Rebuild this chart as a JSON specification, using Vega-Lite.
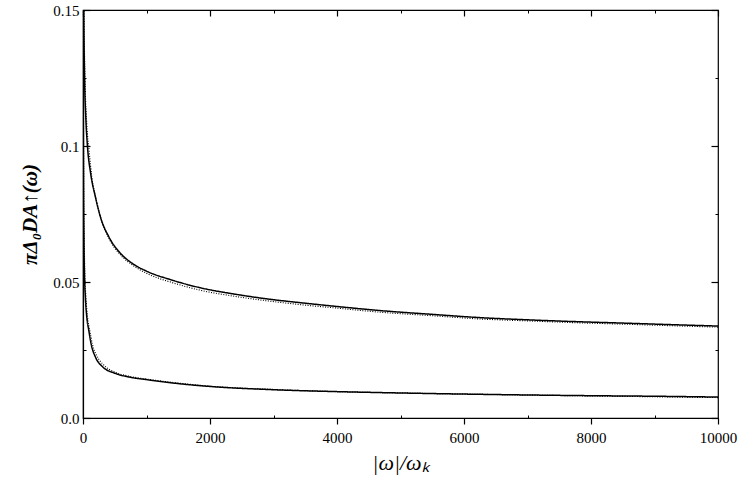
{
  "$schema": "https://vega.github.io/schema/vega-lite/v6.json",
  "width": 635,
  "height": 408,
  "autosize": {"type": "none"},
  "padding": {"left": 83, "top": 10, "right": 20, "bottom": 70},
  "background": "white",
  "config": {
    "font": "Liberation Serif",
    "view": {"stroke": "black", "strokeWidth": 1.2},
    "axis": {
      "labelFont": "Liberation Serif",
      "titleFont": "Liberation Serif",
      "labelColor": "black",
      "titleColor": "black",
      "tickColor": "black",
      "domainColor": "black",
      "grid": false,
      "labelFontSize": 15
    }
  },
  "data": {
    "values": [
      {"x": 5, "y": 0.18, "series": "upper solid", "kind": "solid"},
      {"x": 12, "y": 0.15, "series": "upper solid", "kind": "solid"},
      {"x": 25, "y": 0.125, "series": "upper solid", "kind": "solid"},
      {"x": 45, "y": 0.11, "series": "upper solid", "kind": "solid"},
      {"x": 70, "y": 0.1, "series": "upper solid", "kind": "solid"},
      {"x": 120, "y": 0.09, "series": "upper solid", "kind": "solid"},
      {"x": 194, "y": 0.0814, "series": "upper solid", "kind": "solid"},
      {"x": 280, "y": 0.0735, "series": "upper solid", "kind": "solid"},
      {"x": 405, "y": 0.0667, "series": "upper solid", "kind": "solid"},
      {"x": 580, "y": 0.0608, "series": "upper solid", "kind": "solid"},
      {"x": 772, "y": 0.0569, "series": "upper solid", "kind": "solid"},
      {"x": 1000, "y": 0.0540, "series": "upper solid", "kind": "solid"},
      {"x": 1402, "y": 0.0507, "series": "upper solid", "kind": "solid"},
      {"x": 1843, "y": 0.0479, "series": "upper solid", "kind": "solid"},
      {"x": 2400, "y": 0.0455, "series": "upper solid", "kind": "solid"},
      {"x": 2893, "y": 0.0438, "series": "upper solid", "kind": "solid"},
      {"x": 3500, "y": 0.0422, "series": "upper solid", "kind": "solid"},
      {"x": 4000, "y": 0.041, "series": "upper solid", "kind": "solid"},
      {"x": 4677, "y": 0.0395, "series": "upper solid", "kind": "solid"},
      {"x": 5500, "y": 0.0381, "series": "upper solid", "kind": "solid"},
      {"x": 6252, "y": 0.0369, "series": "upper solid", "kind": "solid"},
      {"x": 7000, "y": 0.0361, "series": "upper solid", "kind": "solid"},
      {"x": 7800, "y": 0.0354, "series": "upper solid", "kind": "solid"},
      {"x": 8500, "y": 0.0349, "series": "upper solid", "kind": "solid"},
      {"x": 9300, "y": 0.0343, "series": "upper solid", "kind": "solid"},
      {"x": 10000, "y": 0.0338, "series": "upper solid", "kind": "solid"},

      {"x": 8, "y": 0.18, "series": "upper dotted", "kind": "dotted"},
      {"x": 16, "y": 0.15, "series": "upper dotted", "kind": "dotted"},
      {"x": 32, "y": 0.125, "series": "upper dotted", "kind": "dotted"},
      {"x": 60, "y": 0.108, "series": "upper dotted", "kind": "dotted"},
      {"x": 95, "y": 0.0985, "series": "upper dotted", "kind": "dotted"},
      {"x": 140, "y": 0.0885, "series": "upper dotted", "kind": "dotted"},
      {"x": 210, "y": 0.0800, "series": "upper dotted", "kind": "dotted"},
      {"x": 300, "y": 0.0720, "series": "upper dotted", "kind": "dotted"},
      {"x": 420, "y": 0.0655, "series": "upper dotted", "kind": "dotted"},
      {"x": 600, "y": 0.0597, "series": "upper dotted", "kind": "dotted"},
      {"x": 800, "y": 0.0559, "series": "upper dotted", "kind": "dotted"},
      {"x": 1000, "y": 0.0532, "series": "upper dotted", "kind": "dotted"},
      {"x": 1402, "y": 0.0498, "series": "upper dotted", "kind": "dotted"},
      {"x": 1843, "y": 0.0470, "series": "upper dotted", "kind": "dotted"},
      {"x": 2400, "y": 0.0447, "series": "upper dotted", "kind": "dotted"},
      {"x": 2893, "y": 0.0431, "series": "upper dotted", "kind": "dotted"},
      {"x": 3500, "y": 0.0415, "series": "upper dotted", "kind": "dotted"},
      {"x": 4000, "y": 0.0404, "series": "upper dotted", "kind": "dotted"},
      {"x": 4677, "y": 0.0389, "series": "upper dotted", "kind": "dotted"},
      {"x": 5500, "y": 0.0376, "series": "upper dotted", "kind": "dotted"},
      {"x": 6252, "y": 0.0364, "series": "upper dotted", "kind": "dotted"},
      {"x": 7000, "y": 0.0357, "series": "upper dotted", "kind": "dotted"},
      {"x": 7800, "y": 0.0350, "series": "upper dotted", "kind": "dotted"},
      {"x": 8500, "y": 0.0345, "series": "upper dotted", "kind": "dotted"},
      {"x": 9300, "y": 0.0339, "series": "upper dotted", "kind": "dotted"},
      {"x": 10000, "y": 0.0334, "series": "upper dotted", "kind": "dotted"},

      {"x": 2, "y": 0.17, "series": "lower solid", "kind": "solid"},
      {"x": 5, "y": 0.12, "series": "lower solid", "kind": "solid"},
      {"x": 9, "y": 0.085, "series": "lower solid", "kind": "solid"},
      {"x": 15, "y": 0.065, "series": "lower solid", "kind": "solid"},
      {"x": 24, "y": 0.052, "series": "lower solid", "kind": "solid"},
      {"x": 37, "y": 0.0446, "series": "lower solid", "kind": "solid"},
      {"x": 60, "y": 0.037, "series": "lower solid", "kind": "solid"},
      {"x": 90, "y": 0.0324, "series": "lower solid", "kind": "solid"},
      {"x": 130, "y": 0.027, "series": "lower solid", "kind": "solid"},
      {"x": 194, "y": 0.0225, "series": "lower solid", "kind": "solid"},
      {"x": 300, "y": 0.019, "series": "lower solid", "kind": "solid"},
      {"x": 509, "y": 0.0164, "series": "lower solid", "kind": "solid"},
      {"x": 740, "y": 0.015, "series": "lower solid", "kind": "solid"},
      {"x": 1034, "y": 0.0140, "series": "lower solid", "kind": "solid"},
      {"x": 1402, "y": 0.0129, "series": "lower solid", "kind": "solid"},
      {"x": 2000, "y": 0.0116, "series": "lower solid", "kind": "solid"},
      {"x": 3000, "y": 0.0104, "series": "lower solid", "kind": "solid"},
      {"x": 4000, "y": 0.0097, "series": "lower solid", "kind": "solid"},
      {"x": 5000, "y": 0.0092, "series": "lower solid", "kind": "solid"},
      {"x": 6567, "y": 0.0086, "series": "lower solid", "kind": "solid"},
      {"x": 8000, "y": 0.0082, "series": "lower solid", "kind": "solid"},
      {"x": 9000, "y": 0.0080, "series": "lower solid", "kind": "solid"},
      {"x": 10000, "y": 0.0077, "series": "lower solid", "kind": "solid"},

      {"x": 3, "y": 0.17, "series": "lower dotted", "kind": "dotted"},
      {"x": 7, "y": 0.12, "series": "lower dotted", "kind": "dotted"},
      {"x": 12, "y": 0.085, "series": "lower dotted", "kind": "dotted"},
      {"x": 20, "y": 0.065, "series": "lower dotted", "kind": "dotted"},
      {"x": 31, "y": 0.052, "series": "lower dotted", "kind": "dotted"},
      {"x": 46, "y": 0.0446, "series": "lower dotted", "kind": "dotted"},
      {"x": 72, "y": 0.037, "series": "lower dotted", "kind": "dotted"},
      {"x": 105, "y": 0.0324, "series": "lower dotted", "kind": "dotted"},
      {"x": 150, "y": 0.027, "series": "lower dotted", "kind": "dotted"},
      {"x": 220, "y": 0.0228, "series": "lower dotted", "kind": "dotted"},
      {"x": 330, "y": 0.0194, "series": "lower dotted", "kind": "dotted"},
      {"x": 509, "y": 0.0168, "series": "lower dotted", "kind": "dotted"},
      {"x": 740, "y": 0.0153, "series": "lower dotted", "kind": "dotted"},
      {"x": 1034, "y": 0.0142, "series": "lower dotted", "kind": "dotted"},
      {"x": 1402, "y": 0.0131, "series": "lower dotted", "kind": "dotted"},
      {"x": 2000, "y": 0.0117, "series": "lower dotted", "kind": "dotted"},
      {"x": 3000, "y": 0.0105, "series": "lower dotted", "kind": "dotted"},
      {"x": 4000, "y": 0.0097, "series": "lower dotted", "kind": "dotted"},
      {"x": 5000, "y": 0.0092, "series": "lower dotted", "kind": "dotted"},
      {"x": 6567, "y": 0.0086, "series": "lower dotted", "kind": "dotted"},
      {"x": 8000, "y": 0.0081, "series": "lower dotted", "kind": "dotted"},
      {"x": 9000, "y": 0.0078, "series": "lower dotted", "kind": "dotted"},
      {"x": 10000, "y": 0.0075, "series": "lower dotted", "kind": "dotted"}
    ]
  },
  "layer": [
    {
      "mark": {"type": "line", "clip": true, "color": "black", "interpolate": "monotone"},
      "encoding": {
        "x": {
          "field": "x", "type": "quantitative",
          "scale": {"domain": [0, 10000], "nice": false, "zero": false},
          "axis": {
            "orient": "bottom", "values": [0, 2000, 4000, 6000, 8000, 10000],
            "format": "d", "labelFont": "Liberation Serif", "titleFont": "Liberation Serif",
            "tickSize": 6, "labelPadding": 6, "labelFontSize": 15,
            "labelFlush": false, "domainWidth": 1.2, "tickWidth": 1.2,
            "title": "|ω|/ωₖ", "titleFontSize": 22, "titleFontStyle": "italic",
            "titleFontWeight": "normal", "titlePadding": 7
          }
        },
        "y": {
          "field": "y", "type": "quantitative",
          "scale": {"domain": [0, 0.15], "nice": false, "zero": false},
          "axis": {
            "orient": "left", "values": [0, 0.05, 0.1, 0.15],
            "labelFont": "Liberation Serif", "titleFont": "Liberation Serif",
            "tickSize": -7, "labelPadding": 11, "labelFontSize": 15,
            "labelFlush": false, "domainWidth": 1.2, "tickWidth": 1.2,
            "labelExpr": "datum.value == 0 ? '0.0' : format(datum.value, '.2~f')",
            "title": "πΔ₀DA↑(ω)", "titleFontSize": 21, "titleFontStyle": "italic",
            "titleFontWeight": "bold", "titlePadding": 12
          }
        },
        "detail": {"field": "series"},
        "strokeDash": {
          "field": "kind", "type": "nominal",
          "scale": {"domain": ["solid", "dotted"], "range": [[1, 0], [1, 1.5]]},
          "legend": null
        },
        "strokeWidth": {
          "field": "kind", "type": "nominal",
          "scale": {"domain": ["solid", "dotted"], "range": [1.5, 1.1]},
          "legend": null
        }
      }
    },
    {
      "mark": {"type": "line", "opacity": 0},
      "encoding": {
        "x": {"field": "x", "type": "quantitative",
          "axis": {"orient": "top", "values": [0, 2000, 4000, 6000, 8000, 10000], "tickSize": -6, "labels": false, "domain": false, "title": null, "tickWidth": 1.2}},
        "y": {"field": "y", "type": "quantitative",
          "axis": {"orient": "right", "values": [0, 0.05, 0.1, 0.15], "tickSize": -7, "labels": false, "domain": false, "title": null, "tickWidth": 1.2}},
        "detail": {"field": "series"}
      }
    },
    {
      "mark": {"type": "line", "opacity": 0},
      "encoding": {
        "x": {"field": "x", "type": "quantitative",
          "axis": {"orient": "bottom", "values": [1000, 3000, 5000, 7000, 9000], "tickSize": -3, "labels": false, "domain": false, "title": null, "tickWidth": 1}},
        "y": {"field": "y", "type": "quantitative",
          "axis": {"orient": "left", "values": [0.025, 0.075, 0.125], "tickSize": -3, "labels": false, "domain": false, "title": null, "tickWidth": 1}},
        "detail": {"field": "series"}
      }
    },
    {
      "mark": {"type": "line", "opacity": 0},
      "encoding": {
        "x": {"field": "x", "type": "quantitative",
          "axis": {"orient": "top", "values": [1000, 3000, 5000, 7000, 9000], "tickSize": -3, "labels": false, "domain": false, "title": null, "tickWidth": 1}},
        "y": {"field": "y", "type": "quantitative",
          "axis": {"orient": "right", "values": [0.025, 0.075, 0.125], "tickSize": -3, "labels": false, "domain": false, "title": null, "tickWidth": 1}},
        "detail": {"field": "series"}
      }
    }
  ],
  "resolve": {"axis": {"x": "independent", "y": "independent"}}
}
